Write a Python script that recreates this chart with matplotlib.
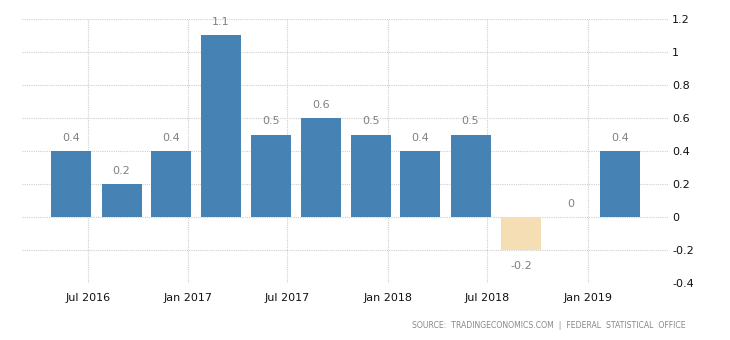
import pandas as pd
import matplotlib
matplotlib.use('Agg')
import matplotlib.pyplot as plt

# quarterly values, plotted at the last-month-of-quarter start
dates = ['2016-06', '2016-09', '2016-12', '2017-03', '2017-06', '2017-09',
         '2017-12', '2018-03', '2018-06', '2018-09', '2018-12', '2019-03']
values = [0.4, 0.2, 0.4, 1.1, 0.5, 0.6, 0.5, 0.4, 0.5, -0.2, 0.0, 0.4]
tick_dates = ['2016-07', '2017-01', '2017-07', '2018-01', '2018-07', '2019-01']
tick_labels = ['Jul 2016', 'Jan 2017', 'Jul 2017', 'Jan 2018', 'Jul 2018', 'Jan 2019']
y_ticks = [1.2, 1, 0.8, 0.6, 0.4, 0.2, 0, -0.2, -0.4]

x = pd.to_datetime(dates)
colors = ['#4682b4' if v >= 0 else '#f5deb3' for v in values]

fig = plt.figure(figsize=(7.3, 3.4), dpi=100)
ax = fig.add_axes([22 / 730, 1 - 283 / 340, (668 - 22) / 730, (283 - 19) / 340])

ax.bar(x, values, width=73, color=colors, zorder=2)

for xi, v in zip(x, values):
    if v < 0:
        ax.annotate(f'{v:g}', (xi, v), xytext=(0, -8), textcoords='offset points',
                    ha='center', va='top', color='#808080', fontsize=8)
    else:
        ax.annotate(f'{v:g}', (xi, v), xytext=(0, 6), textcoords='offset points',
                    ha='center', va='bottom', color='#808080', fontsize=8)

ax.set_xlim(pd.Timestamp('2016-03-03'), pd.Timestamp('2019-05-28'))
ax.set_ylim(-0.4, 1.2)
ax.set_xticks(pd.to_datetime(tick_dates))
ax.set_xticklabels(tick_labels)
ax.set_yticks(y_ticks)
ax.set_yticklabels([f'{t:g}' for t in y_ticks])
ax.yaxis.tick_right()

ax.grid(True, color='#cfcfcf', linestyle=(0, (1, 1)), linewidth=0.8, zorder=0)
for s in ax.spines.values():
    s.set_visible(False)
ax.tick_params(axis='both', length=0, labelsize=8, colors='#111111')
ax.tick_params(axis='y', pad=3)
ax.tick_params(axis='x', pad=7)

fig.text(686 / 730, 1 - 325 / 340, 'SOURCE:  TRADINGECONOMICS.COM  |  FEDERAL  STATISTICAL  OFFICE',
         ha='right', va='center', fontsize=5.6, color='#888888')

fig.savefig('out.png', dpi=100)
